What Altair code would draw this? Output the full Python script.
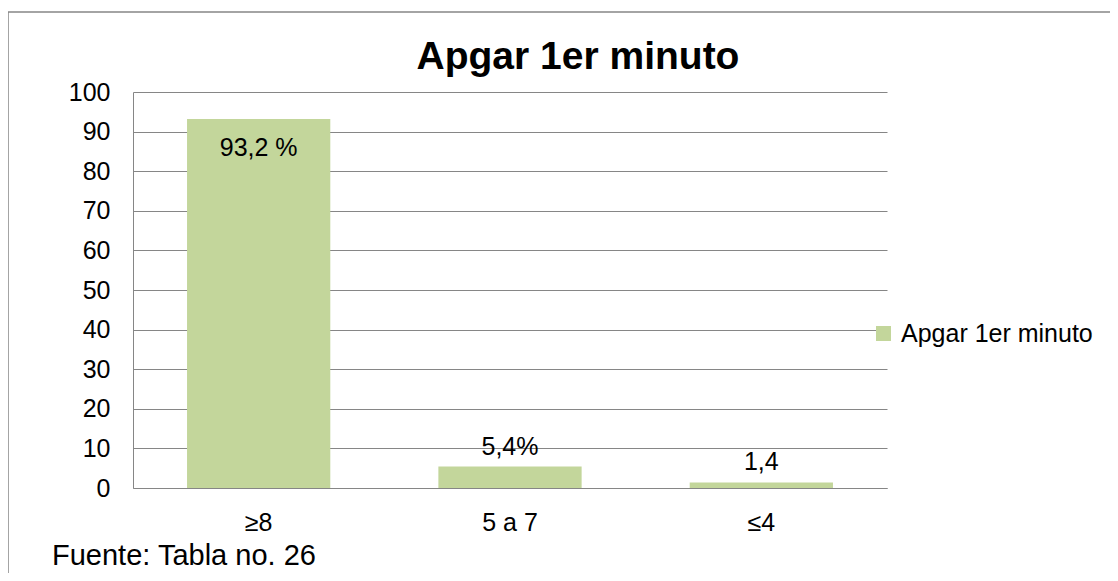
import altair as alt
import pandas as pd

categories = ["≥8", "5 a 7", "≤4"]
values = [93.2, 5.4, 1.4]
value_labels = ["93,2 %", "5,4%", "1,4"]
series_name = "Apgar 1er minuto"
title_text = "Apgar 1er minuto"
source_text = "Fuente: Tabla no. 26"
y_ticks = list(range(0, 101, 10))

df = pd.DataFrame({
    "categoria": categories,
    "valor": values,
    "etiqueta": value_labels,
    "serie": [series_name] * len(categories),
})

FONT = "Liberation Sans"
GRAY = "#868686"
GREEN = "#c3d69b"
FS = 25

x_enc = alt.X(
    "categoria:N", sort=categories,
    scale=alt.Scale(paddingInner=0.43, paddingOuter=0.215),
    axis=alt.Axis(title=None, labelAngle=0, ticks=False, domainColor=GRAY,
                  domainWidth=1, labelFontSize=FS, labelPadding=22,
                  labelColor="black", labelFont=FONT, grid=False),
)
y_enc = alt.Y(
    "valor:Q",
    scale=alt.Scale(domain=[0, 100], nice=False),
    axis=alt.Axis(title=None, values=y_ticks, tickCount=len(y_ticks) + 2,
                  ticks=False, domainColor=GRAY, domainWidth=1,
                  gridColor=GRAY, gridWidth=1, gridOpacity=1,
                  labelFontSize=FS, labelPadding=23, labelColor="black",
                  labelFont=FONT, labelOverlap=False, labelFlush=False),
)

base = alt.Chart(df)

bars = base.mark_bar().encode(
    x=x_enc, y=y_enc,
    color=alt.Color(
        "serie:N",
        scale=alt.Scale(range=[GREEN]),
        legend=alt.Legend(title=None, orient="none", legendX=738, legendY=229,
                          symbolType="square", symbolSize=225,
                          symbolStrokeWidth=0, symbolOpacity=1,
                          labelFontSize=FS, labelFont=FONT, labelLimit=400,
                          labelColor="black", padding=0, labelOffset=5),
    ),
)

inside = base.transform_filter("datum.valor >= 50").mark_text(
    dy=29, fontSize=FS, font=FONT, color="black"
).encode(x=x_enc, y=y_enc, text="etiqueta:N")

outside = base.transform_filter("datum.valor < 50").mark_text(
    dy=-20, fontSize=FS, font=FONT, color="black"
).encode(x=x_enc, y=y_enc, text="etiqueta:N")

ann = pd.DataFrame({"t": [title_text], "s": [source_text]})

title = alt.Chart(ann).mark_text(
    fontSize=39, fontWeight="bold", font=FONT, color="black",
    align="center", baseline="alphabetic"
).encode(x=alt.value(445), y=alt.value(-23), text="t:N")

source = alt.Chart(ann).mark_text(
    fontSize=29, font=FONT, color="black", align="left", baseline="middle"
).encode(x=alt.value(-81), y=alt.value(464), text="s:N")

frame_left = alt.Chart(ann).mark_rule(color=GRAY, strokeWidth=1.5).encode(
    x=alt.value(-125), y=alt.value(-80), y2=alt.value(520)
)
frame_top = alt.Chart(ann).mark_rule(color=GRAY, strokeWidth=1.5).encode(
    x=alt.value(-125), x2=alt.value(1000), y=alt.value(-80)
)

chart = alt.layer(bars, inside, outside, title, source, frame_left, frame_top).properties(
    width=754, height=396,
    autosize="none",
    padding={"left": 125, "top": 84, "right": 223, "bottom": 85},
).configure_view(strokeWidth=0)

chart.save("out.html", embed_options={"renderer": "svg", "actions": False})
